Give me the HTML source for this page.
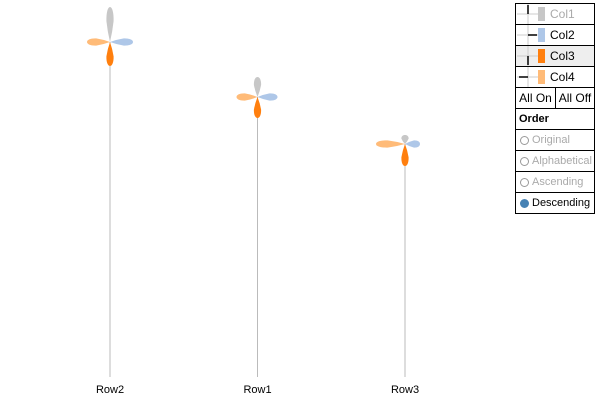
<!DOCTYPE html>
<html><head><meta charset="utf-8"><style>
body{margin:0;background:#fff;font-family:"Liberation Sans",sans-serif;}
#wrap{position:relative;width:600px;height:400px;overflow:hidden}
.lg{position:absolute;left:515px;width:80px;border:1px solid #000;box-sizing:border-box;font-size:11px;height:22px;line-height:20px}
</style></head><body>
<div id="wrap">
<svg id="chart" width="600" height="400" style="position:absolute;left:0;top:0"></svg>
<div id="legend"></div>
</div>
<script>
const categories=["Row2","Row1","Row3"];
const col1=[35,20,9];
const col2=[23,20,15];
const col3=[24,21,22];
const col4=[23,21,29];
const heights=[335,280,233];
const colors=["#c7c7c7","#aec7e8","#ff7f0e","#ffbb78"];
const xPos=i=>110+i*147.5;
const yBase=377;
const yScale=v=>yBase-v;
const ns="http://www.w3.org/2000/svg";
const svg=document.getElementById('chart');
function petal(cx,cy,len,angle,color){
  const w=3.6;
  const p=document.createElementNS(ns,'path');
  p.setAttribute('d',`M0,0 Q${len*0.3},${-w*0.7} ${len*0.6},${-w} C${len*0.85},${-w*1.05} ${len},${-w*0.6} ${len},0 C${len},${w*0.6} ${len*0.85},${w*1.05} ${len*0.6},${w} Q${len*0.3},${w*0.7} 0,0Z`);
  p.setAttribute('fill',color);
  p.setAttribute('transform',`translate(${cx},${cy}) rotate(${angle})`);
  
  
  svg.appendChild(p);
}
categories.forEach((c,i)=>{
  const x=xPos(i),y=yScale(heights[i]);
  const l=document.createElementNS(ns,'line');
  l.setAttribute('x1',x);l.setAttribute('x2',x);l.setAttribute('y1',y);l.setAttribute('y2',yBase);
  l.setAttribute('stroke','#bbb');l.setAttribute('stroke-width','1');
  
  
  svg.appendChild(l);
  petal(x,y,col1[i],-90,colors[0]);
  petal(x,y,col2[i],0,colors[1]);
  petal(x,y,col3[i],90,colors[2]);
  petal(x,y,col4[i],180,colors[3]);
  const t=document.createElementNS(ns,'text');
  t.setAttribute('x',x);t.setAttribute('y',393);t.setAttribute('text-anchor','middle');
  t.setAttribute('font-size','11');t.textContent=c;
  
  
  svg.appendChild(t);
});
const lg=document.getElementById('legend');
const names=["Col1","Col2","Col3","Col4"];
const dirs=[[0,-1],[1,0],[0,1],[-1,0]];
names.forEach((n,i)=>{
  const d=document.createElement('div');d.className='lg';
  d.style.top=(3+i*21)+'px';
  if(i==2)d.style.background='#eee';
  const [dx,dy]=dirs[i];
  d.innerHTML=`<svg width="34" height="20" style="position:absolute;left:0;top:0;overflow:visible"><line x1="1" y1="10" x2="23" y2="10" stroke="#ccc"/><line x1="12" y1="0" x2="12" y2="20" stroke="#ccc"/><line x1="12" y1="10" x2="${12+dx*9}" y2="${10+dy*9}" stroke="#000" stroke-width="1.5"/><rect x="22" y="3" width="7" height="14" fill="${colors[i]}"/></svg><span style="position:absolute;left:34px;font-size:12px;color:${i==0?'#aaa':'#000'}">${n}</span>`;
  
  
  lg.appendChild(d);
});
const on=document.createElement('div');on.className='lg';on.style.top='87px';on.style.width='41px';on.style.textAlign='center';on.style.fontSize='12px';on.textContent='All On';


lg.appendChild(on);
const off=document.createElement('div');off.className='lg';off.style.top='87px';off.style.left='555px';off.style.width='40px';off.style.textAlign='center';off.style.fontSize='12px';off.textContent='All Off';


lg.appendChild(off);
const ord=document.createElement('div');ord.className='lg';ord.style.top='108px';ord.style.fontWeight='bold';ord.style.paddingLeft='3px';ord.textContent='Order';


lg.appendChild(ord);
["Original","Alphabetical","Ascending","Descending"].forEach((n,i)=>{
  const d=document.createElement('div');d.className='lg';d.style.top=(129+i*21)+'px';
  const sel=i==3;
  d.innerHTML=`<span style="position:absolute;left:4px;top:6px;width:7px;height:7px;border-radius:50%;${sel?'background:#4682b4;border:1px solid #4682b4':'border:1px solid #999'}"></span><span style="position:absolute;left:16px;color:${sel?'#000':'#aaa'}">${n}</span>`;
  
  
  lg.appendChild(d);
});
</script>
</body></html>
